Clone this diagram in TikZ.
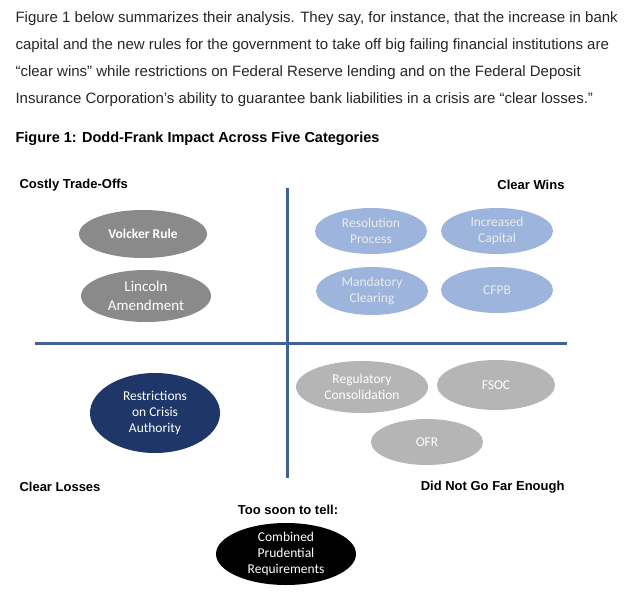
\documentclass[tikz,border=0pt]{standalone}
\usepackage{fontspec}
\setmainfont{Liberation Sans}
\newfontfamily\ovalfont{Carlito}
\usepackage{tikz}
\usetikzlibrary{positioning, shapes.geometric}

\definecolor{axisblue}{HTML}{41619A}
\definecolor{wingray}{HTML}{8A8A8A}
\definecolor{paleblue}{HTML}{9DB5DC}
\definecolor{lightgray}{HTML}{B5B5B5}
\definecolor{navy}{HTML}{1F3768}

\tikzset{
    para/.style={anchor=west, font=\fontsize{15}{18}\selectfont, text=black!85},
    quad/.style={font=\bfseries\fontsize{13}{15}\selectfont},
    oval/.style={ellipse, draw=none, align=center, font=\ovalfont\fontsize{13.5}{16}\selectfont, text=white, inner sep=0pt},
}

\begin{document}
\begin{tikzpicture}[x=1pt, y=-1pt]
    \useasboundingbox (0,0) rectangle (628,591);

    % Text above the figure
    \node[para] (l1) at (12, 19) {Figure 1 below summarizes their analysis. They say, for instance, that the increase in bank};
    \node[para] (l2) at (12, 46) {capital and the new rules for the government to take off big failing financial institutions are};
    \node[para] (l3) at (12, 73) {“clear wins” while restrictions on Federal Reserve lending and on the Federal Deposit};
    \node[para] (l4) at (12, 100) {Insurance Corporation’s ability to guarantee bank liabilities in a crisis are “clear losses.”};

    \node[anchor=west, font=\bfseries\fontsize{14.5}{16}\selectfont] (title) at (12, 139) {Figure 1: Dodd-Frank Impact Across Five Categories};

    % Axes
    \coordinate (top) at (287, 188);
    \coordinate (bot) at (287, 478);
    \coordinate (left) at (35, 343);
    \coordinate (right) at (567, 343);
    \draw[axisblue, line width=3pt] (top) -- (bot);
    \draw[axisblue, line width=3pt] (left) -- (right);

    % Quadrant labels
    \node[quad, anchor=west] (costly) at (16, 185) {Costly Trade-Offs};
    \node[quad, anchor=east] (wins) at (568, 185) {Clear Wins};
    \node[quad, anchor=west] (losses) at (16, 487) {Clear Losses};
    \node[quad, anchor=east] (notfar) at (568, 487) {Did Not Go Far Enough};
    \node[quad] (soon) at (288, 510) {Too soon to tell:};

    % Costly trade-offs
    \node[oval, fill=wingray, minimum width=128, minimum height=48, font=\ovalfont\bfseries\fontsize{13.5}{16}\selectfont] (volcker) at (143, 234) {Volcker Rule};
    \node[oval, fill=wingray, minimum width=130, minimum height=52, font=\ovalfont\fontsize{15}{19}\selectfont] (lincoln) at (146, 296) {Lincoln\\Amendment};

    % Clear wins
    \node[oval, fill=paleblue, text=white!92!black, minimum width=112, minimum height=46] (resolution) at (371, 231) {Resolution\\Process};
    \node[oval, fill=paleblue, text=white!92!black, minimum width=112, minimum height=46] (capital) at (497, 231) {Increased\\Capital};
    \node[oval, fill=paleblue, text=white!92!black, minimum width=112, minimum height=48] (clearing) at (372, 291) {Mandatory\\Clearing};
    \node[oval, fill=paleblue, text=white!92!black, minimum width=112, minimum height=46] (cfpb) at (497, 290) {CFPB};

    % Clear losses
    \node[oval, fill=navy, minimum width=130, minimum height=80] (crisis) at (155, 413) {Restrictions\\on Crisis\\Authority};

    % Did not go far enough
    \node[oval, fill=lightgray, minimum width=132, minimum height=52] (consol) at (362, 387) {Regulatory\\Consolidation};
    \node[oval, fill=lightgray, minimum width=118, minimum height=50] (fsoc) at (496, 385) {FSOC};
    \node[oval, fill=lightgray, minimum width=112, minimum height=46] (ofr) at (427, 442) {OFR};

    % Too soon to tell
    \node[oval, fill=black, minimum width=140, minimum height=62] (prudential) at (286, 554) {Combined\\Prudential\\Requirements};
\end{tikzpicture}
\end{document}
